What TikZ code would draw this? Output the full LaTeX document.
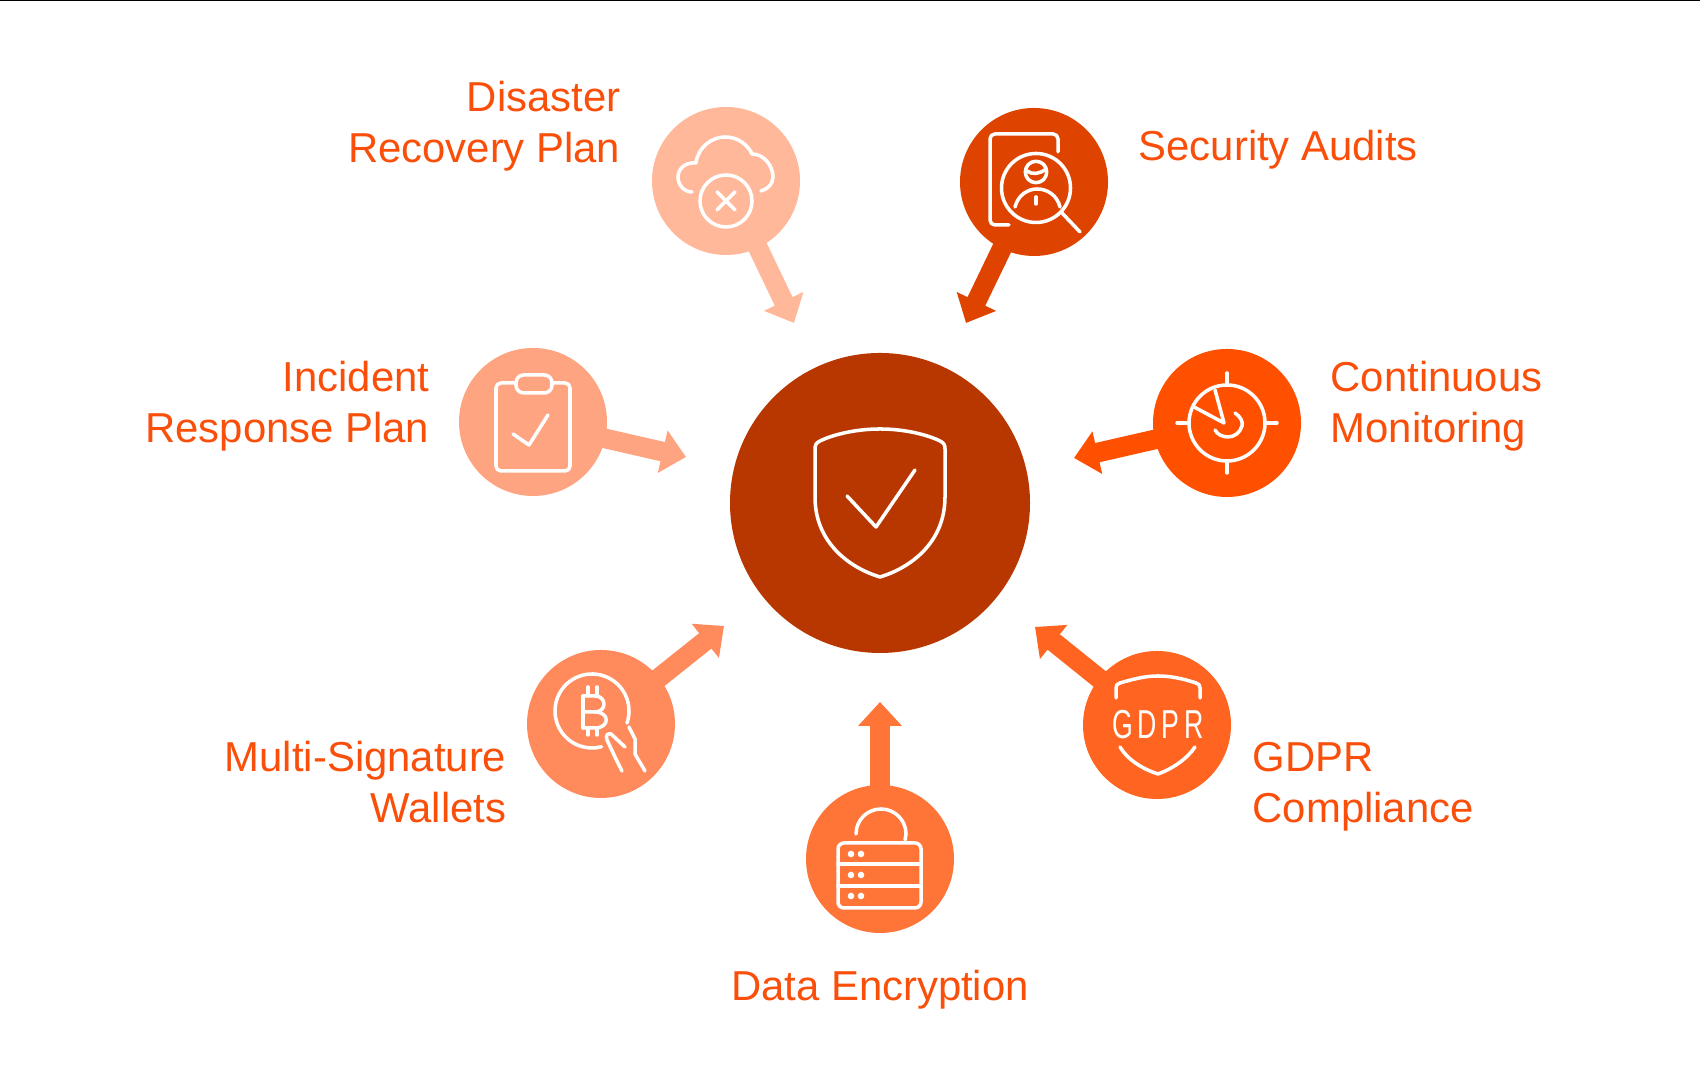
\documentclass[tikz,border=0pt]{standalone}
\usepackage{fontspec}
\setmainfont{Liberation Sans}
\usetikzlibrary{arrows.meta,positioning}
\definecolor{hubcol}{HTML}{B83700}
\definecolor{recoverycol}{HTML}{FFB899}
\definecolor{auditcol}{HTML}{DF4300}
\definecolor{monitorcol}{HTML}{FF5000}
\definecolor{gdprcol}{HTML}{FF6420}
\definecolor{cryptcol}{HTML}{FF7538}
\definecolor{walletcol}{HTML}{FF8A5C}
\definecolor{incidentcol}{HTML}{FFA481}
\definecolor{labelcol}{HTML}{FA4F0A}
\tikzset{
	disc/.style={circle, inner sep=0pt, minimum size=148*0.01cm},
	label/.style={text=labelcol, inner sep=0pt, font=\fontsize{11.9}{14.5}\selectfont},
	feed/.style={line width=5.6pt, shorten <=-1pt, -{Triangle[width=12pt,length=6.8pt]}},
	icon/.style={draw=white, line width=1pt, line cap=round, line join=round}
}
\begin{document}
\begin{tikzpicture}[x=0.01cm, y=0.01cm]
	\useasboundingbox (0,0) rectangle (1700,1080);
	\fill[white] (0,0) rectangle (1700,1080);
	\fill[black] (0,1078.5) rectangle (1700,1080);

	\node[disc, fill=hubcol, minimum size=300*0.01cm] (hub) at (880, 577) {};
	\node[disc, fill=recoverycol] (recovery) at (726, 899) {};
	\node[disc, fill=auditcol] (audit) at (1034, 898) {};
	\node[disc, fill=monitorcol] (monitor) at (1227, 657) {};
	\node[disc, fill=gdprcol] (gdpr) at (1157, 355) {};
	\node[disc, fill=cryptcol] (crypt) at (880, 221) {};
	\node[disc, fill=walletcol] (wallet) at (601, 356) {};
	\node[disc, fill=incidentcol] (incident) at (533, 658) {};

	\coordinate (tiprecovery) at (794, 757);
	\coordinate (tipaudit) at (966, 757);
	\coordinate (tipmonitor) at (1074, 622);
	\coordinate (tipgdpr) at (1035, 453);
	\coordinate (tipcrypt) at (880, 378);
	\coordinate (tipwallet) at (724, 454);
	\coordinate (tipincident) at (686, 623);

	\draw[feed, recoverycol] (recovery) -- (tiprecovery);
	\draw[feed, auditcol] (audit) -- (tipaudit);
	\draw[feed, monitorcol] (monitor) -- (tipmonitor);
	\draw[feed, gdprcol] (gdpr) -- (tipgdpr);
	\draw[feed, cryptcol] (crypt) -- (tipcrypt);
	\draw[feed, walletcol] (wallet) -- (tipwallet);
	\draw[feed, incidentcol] (incident) -- (tipincident);

	\node[label, anchor=east, align=right] (recoverytext) at (621, 954) {Disaster\\Recovery Plan};
	\node[label, anchor=west, align=left] (audittext) at (1138, 930) {Security Audits};
	\node[label, anchor=west, align=left] (monitortext) at (1330, 674) {Continuous\\Monitoring};
	\node[label, anchor=west, align=left] (gdprtext) at (1252, 293) {GDPR\\Compliance};
	\node[label] (crypttext) at (880, 90) {Data Encryption};
	\node[label, anchor=east, align=right] (wallettext) at (507, 298) {Multi-Signature\\Wallets};
	\node[label, anchor=east, align=right] (incidenttext) at (430, 674) {Incident\\Response Plan};

	% shield
	\begin{scope}[shift={(hub.center)}, icon]
		\draw (0,74) .. controls (-25,74) and (-48,68) .. (-60,62) .. controls (-64,60) and (-65,58) .. (-65,54) -- (-65,6) .. controls (-65,-40) and (-30,-65) .. (0,-74) .. controls (30,-65) and (65,-40) .. (65,6) -- (65,54) .. controls (65,58) and (64,60) .. (60,62) .. controls (48,68) and (25,74) .. (0,74) -- cycle;
		\draw (-33,7) -- (-4,-24) -- (35,33);
	\end{scope}

	% cloud
	\begin{scope}[shift={(recovery.center)}, icon]
		\draw (-34,-11) .. controls (-43,-11) and (-48,-3) .. (-48,4) .. controls (-48,12) and (-41,19) .. (-30,18) .. controls (-28,34) and (-14,44) .. (-1,44) .. controls (12,44) and (22,36) .. (26,27) .. controls (38,27) and (47,15) .. (47,4) .. controls (47,-3) and (42,-8) .. (35,-10);
		\draw (0,-20) circle (26);
		\draw (-9,-29) -- (9,-11);
		\draw (-9,-11) -- (9,-29);
	\end{scope}

	% magnifier
	\begin{scope}[shift={(audit.center)}, icon]
		\draw[rounded corners=1.4pt] (24,30) -- (24,48) -- (-44,48) -- (-44,-43) -- (-25,-43);
		\draw (2,-6) circle (34.5);
		\draw (28,-31) -- (46,-50);
		\draw (2,10) circle (10.7);
		\draw (-7,11) .. controls (-2,7) and (6,8) .. (12,13);
		\draw (-19,-25) .. controls (-16,-13) and (-6,-7) .. (3,-7) .. controls (13,-7) and (23,-13) .. (26,-25);
		\draw (2,-15) -- (2,-22);
	\end{scope}

	% radar
	\begin{scope}[shift={(monitor.center)}, icon]
		\draw (0,0) circle (38);
		\draw (0,50) -- (0,40);
		\draw (0,-50) -- (0,-40);
		\draw (-50,0) -- (-40,0);
		\draw (50,0) -- (40,0);
		\draw (-12,33) -- (-3,0) -- (-33,16);
		\draw (8,10) .. controls (14,6) and (16,1) .. (15,-3) .. controls (13,-10) and (7,-14) .. (1,-14) .. controls (-5,-14) and (-10,-11) .. (-12,-7);
	\end{scope}

	% gdpr badge
	\begin{scope}[shift={(gdpr.center)}, icon]
		\draw (-41,27) -- (-41,37) .. controls (-41,40) and (-40,41) .. (-37,42) .. controls (-20,47) and (-10,49) .. (1,49) .. controls (12,49) and (24,47) .. (39,42) .. controls (42,41) and (43,40) .. (43,37) -- (43,27);
		\node[text=white, font=\fontsize{11.5}{11.5}\selectfont\addfontfeature{LetterSpace=18}, inner sep=0pt] (gdprmark) at (1,0) {\scalebox{0.66}[1]{GDPR}};
		\draw (-37,-22) .. controls (-30,-34) and (-15,-44) .. (1,-49) .. controls (15,-44) and (30,-34) .. (38,-22);
	\end{scope}

	% padlock
	\begin{scope}[shift={(crypt.center)}, icon]
		\draw (-24,25) arc (180:0:25) -- (25,19);
		\draw[rounded corners=1.7pt] (-42,-49) rectangle (41,16);
		\draw (-42,-5) -- (41,-5);
		\draw (-42,-27) -- (41,-27);
		\foreach \dy in {5,-16,-37} {
			\fill[white, draw=none] (-29,\dy) circle (3.3);
			\fill[white, draw=none] (-19,\dy) circle (3.3);
		}
	\end{scope}

	% coin
	\begin{scope}[shift={(wallet.center)}, icon]
		\draw (-9,13) ++(-19:37) arc (-19:285:37);
		\draw (-18,28) -- (-18,-4);
		\draw (-18,28) -- (-6,28) .. controls (6,28) and (6,12) .. (-6,12) -- (-18,12);
		\draw (-6,12) .. controls (9,12) and (9,-4) .. (-6,-4) -- (-18,-4);
		\draw (-13,37) -- (-13,28);
		\draw (-4,37) -- (-4,28);
		\draw (-13,-4) -- (-13,-11);
		\draw (-4,-4) -- (-4,-11);
		\draw (21,-47) -- (14,-33) -- (6,-16) .. controls (4,-11) and (7,-9) .. (10,-10) -- (24,-23);
		\draw (28,-3) -- (34,-15) -- (34,-30) -- (44,-47);
	\end{scope}

	% clipboard
	\begin{scope}[shift={(incident.center)}, icon]
		\draw[rounded corners=1.4pt] (-17,39) -- (-37,39) -- (-37,-49) -- (37,-49) -- (37,39) -- (19,39);
		\draw[rounded corners=2.2pt] (-17,29) rectangle (19,47);
		\draw (-20,-12) -- (-4,-23) -- (15,7);
	\end{scope}
\end{tikzpicture}
\end{document}
